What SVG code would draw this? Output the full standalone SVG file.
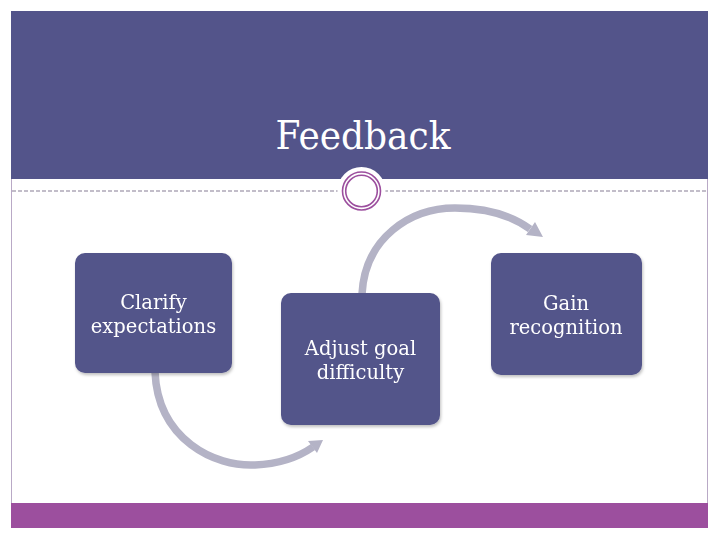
<svg xmlns="http://www.w3.org/2000/svg" width="720" height="540" viewBox="0 0 720 540">
  <defs>
    <style>
      .box { fill: #53548A; }
      .lbl { font-family: "DejaVu Serif", "Liberation Serif", serif; font-size: 19.5px; fill: #FFFFFF; text-anchor: middle; }
      .title { font-family: "DejaVu Serif", "Liberation Serif", serif; font-size: 40px; fill: #FFFFFF; text-anchor: middle; }
      .arc { fill: none; stroke: #B4B3C6; stroke-width: 7.5; }
      .head { fill: #B4B3C6; }
    </style>
    <filter id="sh" x="-10%" y="-10%" width="130%" height="130%">
      <feDropShadow dx="1" dy="2" stdDeviation="1.5" flood-color="#000" flood-opacity="0.25"/>
    </filter>
  </defs>

  <rect x="0" y="0" width="720" height="540" fill="#FFFFFF"/>

  <g id="frame">
    <rect x="11.5" y="11.5" width="696" height="516" fill="#FFFFFF" stroke="#B9A9C6" stroke-width="1"/>
    <rect x="11" y="11" width="697" height="168" fill="#53548A"/>
    <rect x="11" y="503" width="697" height="25" fill="#9C4F9E"/>
    <line x1="12" y1="191" x2="707" y2="191" stroke="#857D94" stroke-width="1.2" stroke-dasharray="4 2"/>
    <circle cx="361.5" cy="191" r="24" fill="#FFFFFF"/>
    <circle cx="361.5" cy="191" r="19" fill="#FFFFFF" stroke="#9C4F9E" stroke-width="1.6"/>
    <circle cx="361.5" cy="191" r="15.8" fill="none" stroke="#9C4F9E" stroke-width="1.6"/>
  </g>

  <g id="title">
    <text class="title" x="363" y="149" textLength="175" lengthAdjust="spacingAndGlyphs">Feedback</text>
  </g>

  <g id="connectors">
    <path class="arc" d="M155,372 C158,440 215,467 255,465 C280,464 300,456 313,447"/>
    <polygon class="head" points="323,440 317,453 308,441"/>
    <path class="arc" d="M362,294 C365,238 410,208 455,208 C490,208 515,218 530,229"/>
    <polygon class="head" points="543,237 526,235 535,222"/>
  </g>

  <g id="node1" filter="url(#sh)">
    <rect class="box" x="75" y="253" width="157" height="120" rx="10"/>
    <text class="lbl" x="153.5" y="309">Clarify</text>
    <text class="lbl" x="153.5" y="333">expectations</text>
  </g>

  <g id="node2" filter="url(#sh)">
    <rect class="box" x="281" y="293" width="159" height="132" rx="10"/>
    <text class="lbl" x="360.5" y="355">Adjust goal</text>
    <text class="lbl" x="360.5" y="379">difficulty</text>
  </g>

  <g id="node3" filter="url(#sh)">
    <rect class="box" x="491" y="253" width="151" height="122" rx="10"/>
    <text class="lbl" x="566" y="310">Gain</text>
    <text class="lbl" x="566" y="334">recognition</text>
  </g>
</svg>
